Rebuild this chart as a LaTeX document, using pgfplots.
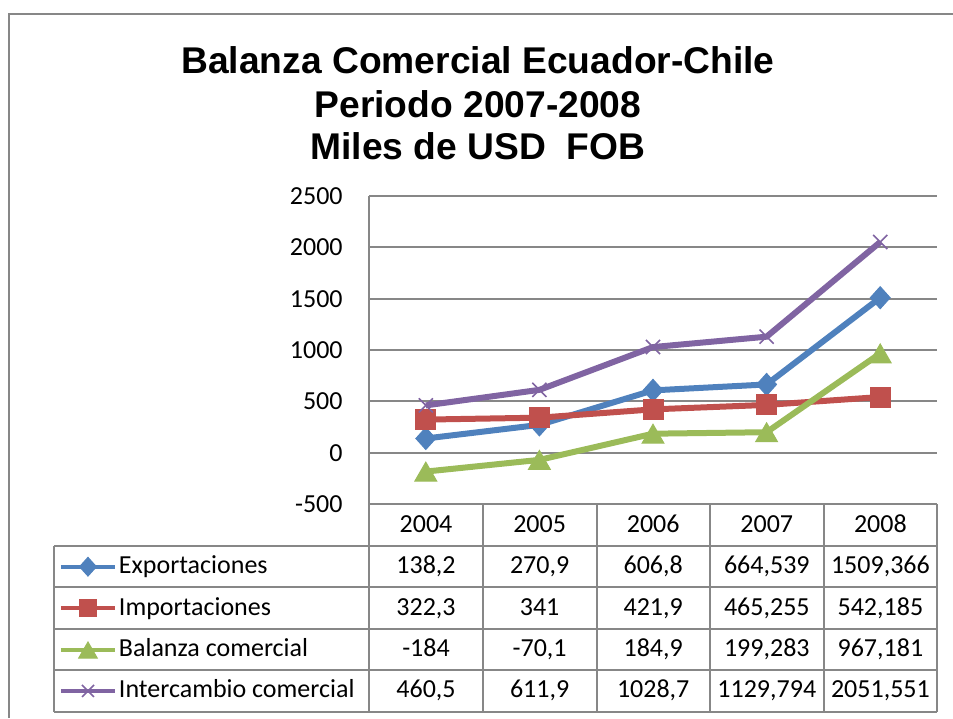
\documentclass[border=0pt]{standalone}
\usepackage{pgfplots}
\pgfplotsset{compat=1.18}
\usepackage{pgfplotstable}
\usepackage{fontspec}
\setmainfont{Carlito}
\newfontfamily\titlefont{Liberation Sans}

\definecolor{cexp}{HTML}{4F81BD}
\definecolor{cimp}{HTML}{C0504D}
\definecolor{cbal}{HTML}{9BBB59}
\definecolor{cint}{HTML}{8064A2}
\definecolor{rule}{HTML}{878787}

% miles de USD FOB
\pgfplotstableread{
year exp imp bal int
2004 138.2 322.3 -184 460.5
2005 270.9 341 -70.1 611.9
2006 606.8 421.9 184.9 1028.7
2007 664.539 465.255 199.283 1129.794
2008 1509.366 542.185 967.181 2051.551
}\datos

\begin{document}
\begin{tikzpicture}
\useasboundingbox (0,0) rectangle (476.5pt,-359pt);

\begin{axis}[
  at={(184.5pt,-252pt)}, anchor=south west,
  scale only axis, width=284pt, height=154pt,
  xmin=2003.5, xmax=2008.5, ymin=-500, ymax=2500,
  ytick={-500,0,...,2500}, xtick=\empty,
  axis x line=none, axis y line*=left,
  y axis line style={draw=rule, line width=1pt, -},
  ymajorgrids, major grid style={draw=rule, line width=1pt},
  ytick style={draw=none},
  yticklabel style={font=\fontsize{13}{15}\selectfont, inner sep=0pt, anchor=east, xshift=-13pt},
  /pgf/number format/assume math mode=true,
  /pgf/number format/1000 sep={},
  clip=false,
  legend cell align=left,
  legend style={at={(-0.5458,-0.1364)}, anchor=north west, draw=none, fill=none,
    inner sep=0pt, outer sep=0pt, row sep=0pt, column sep=1pt, font=\fontsize{13}{15}\selectfont,
    nodes={inner sep=0pt, outer sep=0pt, text height=13.85pt, text depth=6.85pt}},
  legend image code/.code={\draw[mark repeat=2,mark phase=2] plot coordinates {(0pt,0pt) (13.5pt,0pt) (27pt,0pt)};},
  every legend image post/.style={line width=2pt, every mark/.append style={scale=0.85}},
]
\addplot[cexp, line width=3pt, mark=diamond*, mark size=5.5pt,
  mark options={solid, fill=cexp, line width=0.5pt, xscale=1.2}] table[x=year, y=exp] {\datos};
\addplot[cimp, line width=3pt, mark=square*, mark size=5pt,
  mark options={solid, fill=cimp, line width=0.5pt}] table[x=year, y=imp] {\datos};
\addplot[cbal, line width=3pt, mark=triangle*, mark size=6.3pt,
  mark options={solid, fill=cbal, line width=0.5pt, yshift=-1.6pt}] table[x=year, y=bal] {\datos};
\addplot[cint, line width=3pt, mark=x, mark size=5pt,
  mark options={solid, line width=0.8pt}] table[x=year, y=int] {\datos};
\legend{Exportaciones, Importaciones, Balanza comercial, Intercambio comercial}
\end{axis}

\begin{scope}[x=0.5pt, y=-0.5pt]
  % marco
  \draw[rule, line width=1pt] (8.5,718) -- (8.5,13.5) -- (953,13.5);
  % titulo
  \begin{scope}[every node/.style={anchor=base, font=\titlefont\bfseries\fontsize{18.6}{22}\selectfont}]
    \node at (478,73) {Balanza Comercial Ecuador-Chile};
    \node at (478,117) {Periodo 2007-2008};
    \node at (478,159.5) {Miles de USD~~FOB};
  \end{scope}
  % tabla de datos
  \foreach \yy in {546,587.4,628.8,670.2,711.6}
    \draw[rule, line width=1pt] (54,\yy) -- (937,\yy);
  \draw[rule, line width=1pt] (54,546) -- (54,711.6);
  \foreach \xx in {369,483,597,710,824,937}
    \draw[rule, line width=1pt] (\xx,504) -- (\xx,711.6);
  \foreach \i in {0,...,4}{
    \pgfplotstablegetelem{\i}{year}\of\datos
    \node[anchor=base, inner sep=0pt, font=\fontsize{13}{15}\selectfont] at ({426+113.6*\i},532.5) {\pgfplotsretval};
  }
  \foreach \s [count=\r from 0] in {exp,imp,bal,int}{
    \foreach \i in {0,...,4}{
      \pgfplotstablegetelem{\i}{\s}\of\datos
      \node[anchor=base, inner sep=0pt, font=\fontsize{13}{15}\selectfont] at ({426+113.6*\i},{573.7+41.4*\r})
        {\pgfmathprintnumber[use comma, 1000 sep={}, precision=3, assume math mode=true]{\pgfplotsretval}};
    }
  }
\end{scope}
\end{tikzpicture}
\end{document}
